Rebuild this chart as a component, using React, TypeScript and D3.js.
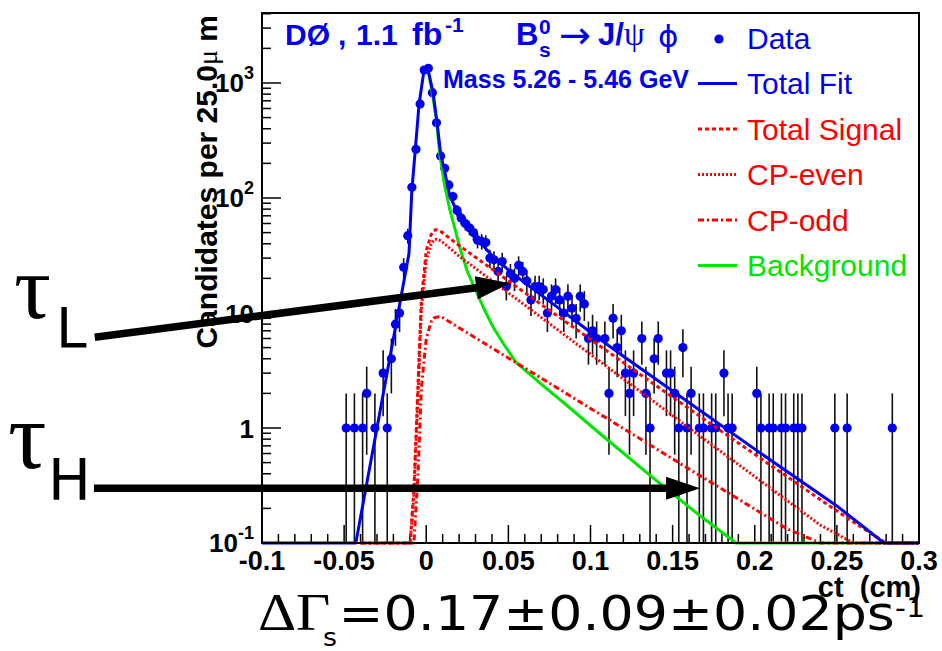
import React from "react";
import * as d3 from "d3";

// ---------------- data ----------------
const binCenters = [
  -0.04875, -0.04375, -0.03875, -0.03625, -0.03125, -0.02625, -0.02375, -0.02125, -0.01875, -0.01625,
  -0.01375, -0.01125, -0.00875, -0.00625, -0.00375, -0.00125, 0.00125, 0.00375, 0.00625, 0.00875,
  0.01125, 0.01375, 0.01625, 0.01875, 0.02125, 0.02375, 0.02625, 0.02875, 0.03125, 0.03375,
  0.03625, 0.03875, 0.04125, 0.04375, 0.04625, 0.04875, 0.05125, 0.05375, 0.05625, 0.05875,
  0.06125, 0.06375, 0.06625, 0.06875, 0.07125, 0.07375, 0.07625, 0.07875, 0.08125, 0.08375,
  0.08625, 0.08875, 0.09125, 0.09375, 0.09625, 0.09875, 0.10125, 0.10375, 0.10875, 0.11125,
  0.11375, 0.11625, 0.11875, 0.12125, 0.12375, 0.12625, 0.13125, 0.13375, 0.13625, 0.13875,
  0.14125, 0.14625, 0.14875, 0.15125, 0.15375, 0.15625, 0.15875, 0.16125, 0.16625, 0.16875,
  0.17375, 0.17625, 0.18125, 0.18375, 0.18625, 0.20125, 0.20375, 0.20875, 0.21125, 0.21625,
  0.21875, 0.22375, 0.22625, 0.22875, 0.24875, 0.25625, 0.28375,
];
const binCounts = [
  1, 1, 1, 2, 1, 3, 1, 4, 8, 10,
  25, 47, 124, 265, 657, 1297, 1343, 824, 451, 232,
  181, 130, 103, 78, 67, 60, 55, 50, 43, 42,
  41, 30, 29, 23, 28, 17, 22, 20, 26, 23,
  19, 13, 17, 17, 16, 10, 14, 16, 13, 10,
  14, 11, 9, 14, 12, 6, 7, 6, 6, 2,
  9, 5, 7, 3, 2, 3, 6, 2, 1, 4,
  6, 3, 3, 2, 1, 5, 1, 2, 1, 1,
  1, 1, 3, 1, 1, 2, 1, 1, 1, 1,
  1, 1, 1, 1, 1, 1, 1,
];

// Total fit (blue)
const fitCt = [-0.1, -0.0429, -0.03, -0.02, -0.0105, -0.0088, -0.0066, -0.0044, -0.0015, 0.0007, 0.0041, 0.0066, 0.0088, 0.0112, 0.0143, 0.0184, 0.0224, 0.0285, 0.0406, 0.0488, 0.06, 0.08, 0.1, 0.12, 0.15, 0.2, 0.25, 0.2787, 0.3];
const fitVal = [0.01, 0.1, 1.0, 6.0, 33, 115, 270, 650, 1250, 1380, 830, 450, 240, 170, 105, 78, 62, 48, 31, 24.5, 18.3, 11.2, 6.8, 4.2, 2.1, 0.655, 0.21, 0.1, 0.05];

// Signal components (red)
const sigCt = [-0.04, -0.0098, -0.0075, -0.005, -0.003, 0, 0.003, 0.0045, 0.006, 0.009, 0.02, 0.04, 0.06, 0.08, 0.1, 0.12, 0.14, 0.16, 0.18, 0.2, 0.22, 0.24, 0.26, 0.28, 0.3];
const totalSignalVal = [0.01, 0.1, 0.3, 2.4, 13, 35, 48, 52, 53, 51, 38.6, 24.1, 15.0, 9.4, 5.9, 3.7, 2.33, 1.47, 0.93, 0.59, 0.375, 0.238, 0.152, 0.096, 0.06];
const cpEvenVal = [0.01, 0.08, 0.25, 2.0, 10.8, 29, 39.6, 43.2, 43.8, 42.5, 31.2, 19.1, 11.7, 7.14, 4.37, 2.67, 1.64, 1.0, 0.615, 0.378, 0.232, 0.143, 0.088, 0.054, 0.033];
const cpOddVal = [0.01, 0.02, 0.05, 0.4, 2.2, 6.0, 8.4, 9.0, 9.2, 9.3, 7.44, 4.97, 3.32, 2.22, 1.48, 0.99, 0.66, 0.44, 0.295, 0.197, 0.132, 0.088, 0.059, 0.039, 0.026];

// Background (green)
const bgCt = [0.0007, 0.0035, 0.0062, 0.0082, 0.0112, 0.0143, 0.0184, 0.0204, 0.025, 0.0305, 0.035, 0.0406, 0.047, 0.0548, 0.07, 0.085, 0.1055, 0.1379, 0.165, 0.1886, 0.3];
const bgVal = [1380, 850, 478, 240, 128, 80, 48, 37, 23, 15.3, 11, 7.6, 5.4, 3.7, 2.41, 1.6, 0.9, 0.37, 0.18, 0.1, 0.01];

const xTicks = [-0.1, -0.05, 0, 0.05, 0.1, 0.15, 0.2, 0.25, 0.3];
const xTickLabels = ["-0.1", "-0.05", "0", "0.05", "0.1", "0.15", "0.2", "0.25", "0.3"];
const yTicks = [0.1, 1, 10, 100, 1000];
const yTickBase = ["10", "1", "10", "10", "10"];
const yTickExp = ["-1", "", "", "2", "3"];

const legendLabels = ["Data", "Total Fit", "Total Signal", "CP-even", "CP-odd", "Background"];

// annotation arrows, in data coordinates [ct, candidates]
const arrowL = [[-0.2018, 6.15], [0.051, 18.1]];
const arrowH = [[-0.2023, 0.3], [0.1667, 0.3]];

// ---------------- styling ----------------
const BLUE = "#0000f0";
const RED = "#ff0000";
const GREEN = "#00e600";
const SANS = "'Liberation Sans', Arial, Helvetica, sans-serif";
const SERIF = "'Liberation Serif', 'Times New Roman', serif";
const DEJAVU = "'DejaVu Sans', sans-serif";

const W = 942;
const H = 651;
const PL = 262, PR = 919, PT = 13, PB = 543;
const Y_MIN = 0.1, Y_MAX = 4060;

export default function App() {
  const x = d3.scaleLinear().domain([-0.1, 0.3]).range([PL, PR]);
  const y = d3.scaleLog().domain([Y_MIN, Y_MAX]).range([PB, PT]);
  const yc = (v: number) => y(Math.max(v, Y_MIN));

  const line = d3
    .line<[number, number]>()
    .x((d) => x(d[0]))
    .y((d) => yc(d[1]))
    .curve(d3.curveLinear);

  const zip = (a: number[], b: number[]) => a.map((v, i) => [v, b[i]] as [number, number]);

  const fitPath = line(zip(fitCt, fitVal)) || "";
  const totPath = line(zip(sigCt, totalSignalVal)) || "";
  const evenPath = line(zip(sigCt, cpEvenVal)) || "";
  const oddPath = line(zip(sigCt, cpOddVal)) || "";
  const bgPath = line(zip(bgCt, bgVal)) || "";

  const n = Math.min(binCenters.length, binCounts.length);
  const points = d3.range(n).map((i) => ({ c: binCenters[i], v: binCounts[i] }));

  // minor ticks
  const xMinor = d3
    .range(-100, 301, 10)
    .map((k) => k / 1000)
    .filter((v) => Math.abs(Math.round(v * 20) - v * 20) > 1e-6);
  const yMinor: number[] = [];
  [0.1, 1, 10, 100, 1000].forEach((d) => {
    for (let k = 2; k <= 9; k++) if (k * d < Y_MAX) yMinor.push(k * d);
  });

  const arrow = (a: number[][], key: string) => {
    const x0 = x(a[0][0]), y0 = y(a[0][1]);
    const x1 = x(a[1][0]), y1 = y(a[1][1]);
    const len = Math.hypot(x1 - x0, y1 - y0);
    const ux = (x1 - x0) / len, uy = (y1 - y0) / len;
    const hl = 34, hw = 11.5;
    const bx = x1 - ux * hl, by = y1 - uy * hl;
    const nx = -uy, ny = ux;
    return (
      <g key={key}>
        <line x1={x0} y1={y0} x2={bx + ux * 2} y2={by + uy * 2} stroke="#000" strokeWidth={7.5} />
        <polygon
          points={`${x1},${y1} ${bx + nx * hw},${by + ny * hw} ${bx - nx * hw},${by - ny * hw}`}
          fill="#000"
        />
      </g>
    );
  };

  const legendY0 = 38;
  const legendDy = 45.5;
  const legendStyles = [
    { color: BLUE, dash: "", kind: "dot" },
    { color: BLUE, dash: "", kind: "line" },
    { color: RED, dash: "4,3", kind: "line" },
    { color: RED, dash: "2,2", kind: "line" },
    { color: RED, dash: "6,3,2,3", kind: "line" },
    { color: GREEN, dash: "", kind: "line" },
  ];

  return (
    <svg
      width={W}
      height={H}
      viewBox={`0 0 ${W} ${H}`}
      style={{ position: "absolute", left: 0, top: 0, background: "#fff" }}
      fontFamily={SANS}
    >
      <defs>
        <clipPath id="plotclip">
          <rect x={PL} y={PT - 2} width={PR - PL} height={PB - PT + 4} />
        </clipPath>
      </defs>
      <rect x={0} y={0} width={W} height={H} fill="#fff" />

      {/* ticks */}
      <g stroke="#000" strokeWidth={1.5}>
        {yTicks.map((v) => (
          <line key={"ym" + v} x1={PL} x2={PL + 19} y1={y(v)} y2={y(v)} />
        ))}
        {yMinor.map((v) => (
          <line key={"yn" + v} x1={PL} x2={PL + 9} y1={y(v)} y2={y(v)} />
        ))}
        {xTicks.map((v) => (
          <line key={"xm" + v} x1={x(v)} x2={x(v)} y1={PB} y2={PB - 18} />
        ))}
        {xMinor.map((v) => (
          <line key={"xn" + v} x1={x(v)} x2={x(v)} y1={PB} y2={PB - 9} />
        ))}
      </g>

      {/* data: error bars and markers */}
      <g clipPath="url(#plotclip)">
        <g stroke="#111" strokeWidth={1.6}>
          {points.map((p, i) => {
            const e = Math.sqrt(p.v);
            return <line key={"e" + i} x1={x(p.c)} x2={x(p.c)} y1={yc(p.v + e)} y2={yc(p.v - e)} />;
          })}
        </g>
        <g fill={BLUE}>
          {points.map((p, i) => (
            <circle key={"p" + i} cx={x(p.c)} cy={yc(p.v)} r={4.6} />
          ))}
        </g>

        {/* curves */}
        <path d={bgPath} fill="none" stroke={GREEN} strokeWidth={3} strokeLinejoin="round" />
        <path d={oddPath} fill="none" stroke={RED} strokeWidth={3} strokeDasharray="6,3,2,3" />
        <path d={evenPath} fill="none" stroke={RED} strokeWidth={3} strokeDasharray="2,2" />
        <path d={totPath} fill="none" stroke={RED} strokeWidth={3} strokeDasharray="4,3" />
        <path d={fitPath} fill="none" stroke={BLUE} strokeWidth={3} strokeLinejoin="round" />
      </g>

      {/* frame */}
      <rect x={PL} y={PT} width={PR - PL} height={PB - PT} fill="none" stroke="#000" strokeWidth={2} />

      {/* x tick labels */}
      <g fontWeight="bold" fontSize={27} textAnchor="middle">
        {xTicks.map((v, i) => (
          <text key={"xl" + i} x={x(v)} y={570}>
            {xTickLabels[i]}
          </text>
        ))}
      </g>
      {/* y tick labels */}
      <g fontWeight="bold" fontSize={26} textAnchor="end">
        {yTicks.map((v, i) => (
          <text key={"yl" + i} x={254} y={y(v) + (yTickExp[i] ? 9 : 10)}>
            {yTickBase[i]}
            {yTickExp[i] ? (
              <tspan dy={-13} fontSize={18}>
                {yTickExp[i]}
              </tspan>
            ) : null}
          </text>
        ))}
      </g>

      {/* axis titles */}
      <text x={921} y={597} textAnchor="end" fontWeight="bold" fontSize={29} style={{ whiteSpace: "pre" }}>
        {"ct  (cm)"}
      </text>
      <text
        transform="translate(217,15) rotate(-90)"
        textAnchor="end"
        fontWeight="bold"
        fontSize={30}
        style={{ whiteSpace: "pre" }}
      >
        {"Candidates per 25.0"}
        <tspan fontWeight="normal" fontFamily={SERIF} fontSize={28}>μ</tspan>
        <tspan>{" m"}</tspan>
      </text>

      {/* experiment label */}
      <g fill={BLUE} fontWeight="bold">
        <text x={285} y={45} fontSize={30}>DØ</text>
        <text x={338} y={45} fontSize={30}>,</text>
        <text x={356} y={45} fontSize={30}>1.1</text>
        <text x={412} y={45} fontSize={32}>fb</text>
        <text x={445} y={32} fontSize={21}>-1</text>
        <text x={516} y={45} fontSize={31}>B</text>
        <text x={539} y={57} fontSize={21}>s</text>
        <text x={539} y={34} fontSize={21}>0</text>
        <text x={559} y={48} fontSize={38} fontWeight="normal" fontFamily={DEJAVU}>→</text>
        <text x={598} y={45} fontSize={31}>J/</text>
        <text x={624} y={45} fontSize={33} fontWeight="normal" fontFamily={SERIF}>ψ</text>
        <text x={658} y={47} fontSize={31} fontWeight="normal" fontFamily={DEJAVU}>ϕ</text>
        <text x={443} y={88} fontSize={25}>Mass 5.26 - 5.46 GeV</text>
      </g>

      {/* legend */}
      <g>
        {legendLabels.map((lab, i) => {
          const cy = legendY0 + i * legendDy;
          const st = legendStyles[i];
          return (
            <g key={"lg" + i}>
              {st.kind === "dot" ? (
                <circle cx={719} cy={cy + 1} r={4.6} fill={st.color} />
              ) : (
                <line
                  x1={698}
                  x2={737}
                  y1={cy}
                  y2={cy}
                  stroke={st.color}
                  strokeWidth={3}
                  strokeDasharray={st.dash || undefined}
                />
              )}
              <text x={747} y={cy + 10.5} fontSize={30} fill={st.color}>
                {lab}
              </text>
            </g>
          );
        })}
      </g>

      {/* arrows and tau labels */}
      {arrow(arrowL, "aL")}
      {arrow(arrowH, "aH")}
      <text x={14} y={318} fontFamily={SERIF} fontSize={92}>τ</text>
      <text x={56} y={347} fontFamily={DEJAVU} fontSize={55}>L</text>
      <text x={8} y={468} fontFamily={SERIF} fontSize={96}>τ</text>
      <text x={48} y={500} fontFamily={DEJAVU} fontSize={57}>H</text>

      {/* Delta Gamma formula */}
      <g transform="translate(0,630) scale(1.12,1)">
        <text x={230.4} y={0} fontFamily={SERIF} fontSize={53}>Δ</text>
        <text x={264.3} y={0} fontFamily={SERIF} fontSize={53}>Γ</text>
        <text x={288.4} y={16} fontFamily={DEJAVU} fontSize={24}>s</text>
        <text x={302.3} y={0} fontFamily={DEJAVU} fontSize={48}>=0.17±0.09±0.02ps</text>
        <text x={799.1} y={-13} fontFamily={DEJAVU} fontSize={27}>-1</text>
      </g>
    </svg>
  );
}
